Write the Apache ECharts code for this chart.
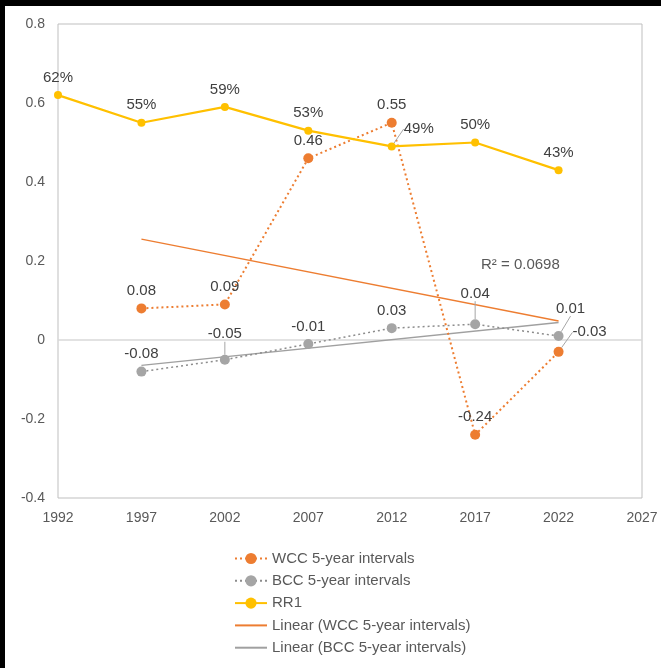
<!DOCTYPE html>
<html>
<head>
<meta charset="utf-8">
<script src="https://cdn.jsdelivr.net/npm/echarts@6/dist/echarts.min.js"></script>
<style>
  html, body { margin: 0; padding: 0; background: #000; }
  #chart { position: absolute; left: 5px; top: 6px; width: 656px; height: 662px; background: #fff; }
</style>
</head>
<body>
<div id="chart"></div>
<script>
// Survey years (5-year intervals)
const years = [1992, 1997, 2002, 2007, 2012, 2017, 2022];
const wccYears = [1997, 2002, 2007, 2012, 2017, 2022];

// Series values
const rr1 = [0.62, 0.55, 0.59, 0.53, 0.49, 0.50, 0.43];
const wcc = [0.08, 0.09, 0.46, 0.55, -0.24, -0.03];
const bcc = [-0.08, -0.05, -0.01, 0.03, 0.04, 0.01];

// Axis settings
const xTicks = { min: 1992, max: 2027, step: 5 };
const yTicks = { min: -0.4, max: 0.8, step: 0.2 };
const r2Text = 'R² = 0.0698';

const FONT = '"Liberation Sans", Arial, sans-serif';
const ORANGE = '#ED7D31';
const GREY = '#A5A5A5';
const GOLD = '#FFC000';

// ordinary least-squares trend over the plotted points
function linearTrend(xs, ys) {
  const n = xs.length;
  const mx = xs.reduce((a, b) => a + b, 0) / n;
  const my = ys.reduce((a, b) => a + b, 0) / n;
  let sxy = 0, sxx = 0;
  for (let i = 0; i < n; i++) { sxy += (xs[i] - mx) * (ys[i] - my); sxx += (xs[i] - mx) ** 2; }
  const slope = sxy / sxx;
  const x0 = xs[0], x1 = xs[n - 1];
  return [[x0, my + slope * (x0 - mx)], [x1, my + slope * (x1 - mx)]];
}

// per-point label nudges (dx, dy) for crowded spots
const wccNudge = { 5: [31, -2] };
const bccNudge = { 1: [0, -8], 4: [0, -13], 5: [12, -10] };
const rrNudge = { 4: [27, 0] };

function withLeaders(xs, ys, nudges) {
  return xs.map((x, i) => {
    const item = { value: [x, ys[i]] };
    if (nudges[i]) item.labelLine = { show: true };
    return item;
  });
}
function layoutFrom(nudges) {
  return function (p) {
    const n = nudges[p.dataIndex];
    return n ? { dx: n[0], dy: n[1] } : {};
  };
}

const labelBase = { show: true, position: 'top', fontFamily: FONT, fontSize: 15, color: '#404040' };
const leader = { show: false, lineStyle: { color: '#a6a6a6', width: 1 } };

const chart = echarts.init(document.getElementById('chart'), null, { renderer: 'canvas' });
chart.setOption({
  animation: false,
  textStyle: { fontFamily: FONT },
  grid: { left: 53, right: 19, top: 18, bottom: 170, show: true, borderColor: '#bfbfbf', borderWidth: 1 },
  xAxis: {
    type: 'value', min: xTicks.min, max: xTicks.max, interval: xTicks.step,
    axisLine: { show: false, onZero: false }, axisTick: { show: false }, splitLine: { show: false },
    axisLabel: { color: '#595959', fontSize: 14, fontFamily: FONT, margin: 13, formatter: v => String(v) }
  },
  yAxis: {
    type: 'value', min: yTicks.min, max: yTicks.max, interval: yTicks.step,
    axisLine: { show: false }, axisTick: { show: false }, splitLine: { show: false },
    axisLabel: { color: '#595959', fontSize: 14, fontFamily: FONT, margin: 13,
      formatter: v => String(Math.round(v * 10) / 10) }
  },
  legend: {
    orient: 'vertical', left: 229, top: 545, padding: 0,
    itemWidth: 32, itemHeight: 14, itemGap: 7.3,
    textStyle: { color: '#595959', fontSize: 15, fontFamily: FONT },
    data: [
      'WCC 5-year intervals',
      'BCC 5-year intervals',
      'RR1',
      { name: 'Linear (WCC 5-year intervals)', itemStyle: { opacity: 0 } },
      { name: 'Linear (BCC 5-year intervals)', itemStyle: { opacity: 0 } }
    ]
  },
  graphic: [{
    type: 'text', left: 476, top: 251,
    style: { text: r2Text, fill: '#595959', font: '15px ' + FONT }
  }],
  series: [
    {
      name: 'WCC 5-year intervals', type: 'line', z: 3,
      data: withLeaders(wccYears, wcc, wccNudge),
      symbol: 'circle', symbolSize: 10,
      itemStyle: { color: ORANGE },
      lineStyle: { color: ORANGE, width: 2, type: [2, 3] },
      label: Object.assign({}, labelBase, { distance: 5, formatter: p => p.value[1].toFixed(2) }),
      labelLine: leader,
      labelLayout: layoutFrom(wccNudge),
      markLine: {
        silent: true, symbol: 'none', label: { show: false },
        lineStyle: { color: '#d9d9d9', width: 1.5, type: 'solid' },
        data: [{ yAxis: 0 }], z: 1
      }
    },
    {
      name: 'BCC 5-year intervals', type: 'line', z: 3,
      data: withLeaders(wccYears, bcc, bccNudge),
      symbol: 'circle', symbolSize: 10,
      itemStyle: { color: GREY },
      lineStyle: { color: '#8c8c8c', width: 1.5, type: [2, 3] },
      label: Object.assign({}, labelBase, { distance: 5, formatter: p => p.value[1].toFixed(2) }),
      labelLine: leader,
      labelLayout: layoutFrom(bccNudge)
    },
    {
      name: 'RR1', type: 'line', z: 4,
      data: withLeaders(years, rr1, rrNudge),
      symbol: 'circle', symbolSize: 8,
      itemStyle: { color: GOLD },
      lineStyle: { color: GOLD, width: 2.25 },
      label: Object.assign({}, labelBase, { distance: 6, formatter: p => Math.round(p.value[1] * 100) + '%' }),
      labelLine: leader,
      labelLayout: layoutFrom(rrNudge)
    },
    {
      name: 'Linear (WCC 5-year intervals)', type: 'line', z: 2,
      data: linearTrend(wccYears, wcc), symbol: 'none',
      itemStyle: { color: ORANGE },
      lineStyle: { color: ORANGE, width: 1.3 }
    },
    {
      name: 'Linear (BCC 5-year intervals)', type: 'line', z: 2,
      data: linearTrend(wccYears, bcc), symbol: 'none',
      itemStyle: { color: '#a0a0a0' },
      lineStyle: { color: '#a0a0a0', width: 1.3 }
    }
  ]
});
</script>
</body>
</html>
